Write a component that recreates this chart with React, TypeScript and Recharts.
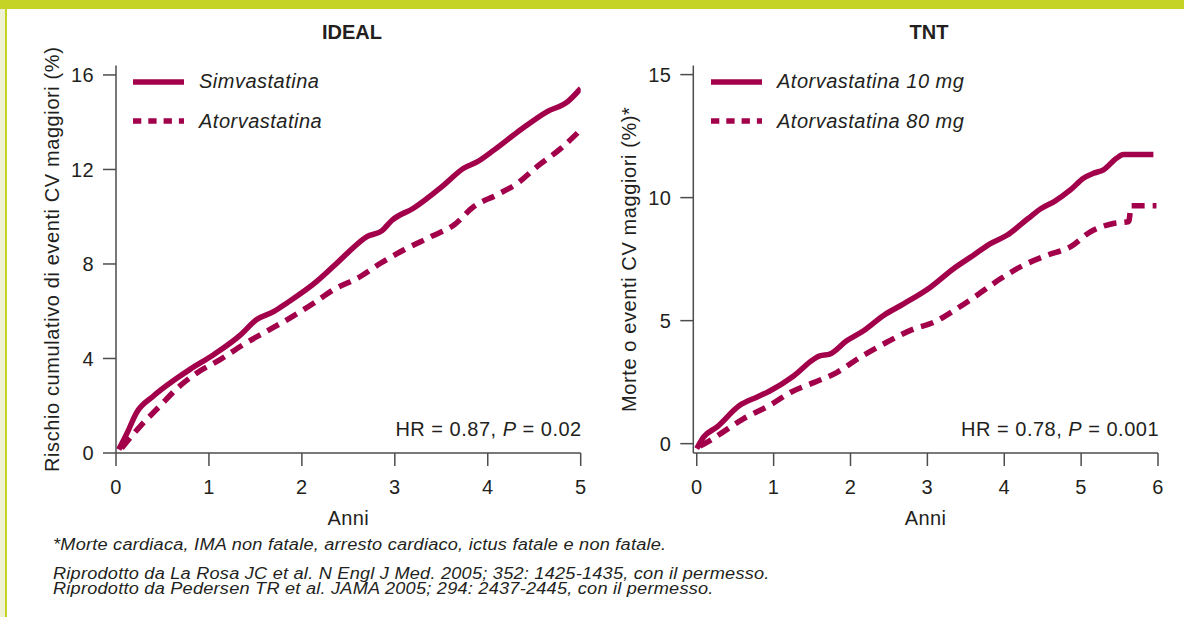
import { Legend, Line, LineChart, XAxis, YAxis } from 'recharts'

const CRIMSON = '#a3004b'
const INK = '#231f20'
const AXIS = '#4d4d4d'
const LIME = '#c5d226'
const FONT = '"Liberation Sans", Arial, Helvetica, sans-serif'

// IDEAL: cumulative risk of major CV events (%) against years of follow-up
const idealSimvaYears = [0.03, 0.12, 0.22, 0.4, 0.65, 0.8, 1.05, 1.34, 1.51, 1.7, 1.84, 2.16, 2.34, 2.49, 2.7, 2.86, 2.97, 3.2, 3.53, 3.74, 3.89, 4.07, 4.35, 4.64, 4.86, 5.0]
const idealSimvaRisk = [0.15, 0.85, 1.7, 2.4, 3.15, 3.55, 4.16, 5.0, 5.64, 5.99, 6.35, 7.26, 7.9, 8.46, 9.16, 9.4, 9.85, 10.36, 11.35, 12.05, 12.33, 12.83, 13.67, 14.45, 14.87, 15.43]
const idealAtorvaYears = [0.06, 0.26, 0.47, 0.67, 0.87, 1.12, 1.37, 1.62, 1.87, 2.13, 2.34, 2.63, 2.85, 3.1, 3.39, 3.64, 3.85, 4.1, 4.32, 4.53, 4.79, 4.98]
const idealAtorvaRisk = [0.2, 1.13, 1.98, 2.78, 3.39, 3.95, 4.59, 5.15, 5.71, 6.35, 6.91, 7.47, 8.04, 8.6, 9.16, 9.66, 10.43, 10.93, 11.42, 12.12, 12.9, 13.6]
const idealXTicks = [0, 1, 2, 3, 4, 5]
const idealYTicks = [0, 4, 8, 12, 16]

// TNT: death or major CV events (%) against years of follow-up
const tnt10Years = [0.0, 0.09, 0.26, 0.56, 0.78, 0.95, 1.26, 1.52, 1.6, 1.73, 1.95, 2.17, 2.43, 2.69, 3.04, 3.34, 3.6, 3.82, 4.04, 4.31, 4.48, 4.65, 4.86, 5.03, 5.16, 5.29, 5.46, 5.55, 5.94]
const tnt10Events = [-0.2, 0.27, 0.67, 1.56, 1.89, 2.14, 2.75, 3.43, 3.57, 3.64, 4.18, 4.59, 5.21, 5.68, 6.36, 7.11, 7.66, 8.13, 8.48, 9.15, 9.56, 9.84, 10.31, 10.79, 10.99, 11.13, 11.6, 11.75, 11.75]
const tnt80Years = [0.04, 0.21, 0.34, 0.6, 0.95, 1.23, 1.52, 1.82, 2.12, 2.47, 2.82, 3.08, 3.38, 3.64, 3.95, 4.25, 4.56, 4.86, 5.12, 5.42, 5.62, 5.65, 5.98]
const tnt80Events = [-0.1, 0.2, 0.47, 1.0, 1.56, 2.1, 2.48, 2.89, 3.5, 4.12, 4.66, 4.93, 5.48, 6.02, 6.7, 7.25, 7.66, 8.0, 8.61, 8.95, 9.03, 9.67, 9.67]
const tntXTicks = [0, 1, 2, 3, 4, 5, 6]
const tntYTicks = [0, 5, 10, 15]

type Point = { t: number; v: number }
type Series = { name: string; dashed: boolean; points: Point[] }

const toPoints = (years: number[], values: number[]): Point[] =>
  years.map((t, i) => ({ t, v: values[i] }))

const tickStyle = { fill: INK, fontSize: 20, fontFamily: FONT, letterSpacing: 0.4 }
const axisStroke = { stroke: AXIS, strokeWidth: 1.5 }

const CHART_H = 540
const PLOT_TOP = 65.5
const PLOT_BOTTOM = 453

function KeyRows({ items }: { items: Series[] }) {
  return (
    <div style={{ fontFamily: FONT, fontSize: 20, fontStyle: 'italic', color: INK, letterSpacing: 0.5 }}>
      {items.map((s) => (
        <div key={s.name} style={{ display: 'flex', alignItems: 'center', height: 39.5 }}>
          <svg width={51} height={8} style={{ marginRight: 15, flex: 'none' }}>
            <line
              x1={0}
              y1={4}
              x2={51}
              y2={4}
              stroke={CRIMSON}
              strokeWidth={5.5}
              strokeDasharray={s.dashed ? '8.3 7' : undefined}
            />
          </svg>
          <span style={{ whiteSpace: 'nowrap' }}>{s.name}</span>
        </div>
      ))}
    </div>
  )
}

function Panel({
  left,
  width,
  rightGap,
  yAxisWidth,
  title,
  titleX,
  xDomain,
  xTicks,
  yDomain,
  yTicks,
  yLabel,
  yLabelDx,
  series,
  legendLeft,
  hr,
}: {
  left: number
  width: number
  rightGap: number
  yAxisWidth: number
  title: string
  titleX: number
  xDomain: [number, number]
  xTicks: number[]
  yDomain: [number, number]
  yTicks: number[]
  yLabel: string
  yLabelDx: number
  series: Series[]
  legendLeft: number
  hr: string
}) {
  const [hrLead, hrTail] = hr.split('|')
  return (
    <div style={{ position: 'absolute', left, top: 0, width, height: CHART_H }}>
      <div
        style={{
          position: 'absolute',
          left: titleX - 100,
          width: 200,
          top: 21,
          textAlign: 'center',
          fontFamily: FONT,
          fontWeight: 'bold',
          fontSize: 20,
          lineHeight: '22px',
          color: INK,
        }}
      >
        {title}
      </div>
      <LineChart
        width={width}
        height={CHART_H}
        margin={{ top: PLOT_TOP, right: rightGap, bottom: 0, left: 0 }}
      >
        <XAxis
          type="number"
          dataKey="t"
          domain={xDomain}
          ticks={xTicks}
          interval={0}
          allowDataOverflow
          height={CHART_H - PLOT_BOTTOM}
          tickSize={13}
          tickMargin={14}
          tick={tickStyle}
          axisLine={axisStroke}
          tickLine={axisStroke}
          label={{
            value: 'Anni',
            position: 'center',
            dy: 21,
            fill: INK,
            fontSize: 20,
            fontFamily: FONT,
            letterSpacing: 0.4,
          }}
        />
        <YAxis
          type="number"
          domain={yDomain}
          ticks={yTicks}
          interval={0}
          allowDataOverflow
          width={yAxisWidth}
          tickSize={13}
          tickMargin={9}
          tick={tickStyle}
          axisLine={axisStroke}
          tickLine={axisStroke}
          label={{
            value: yLabel,
            angle: -90,
            position: 'center',
            dx: yLabelDx,
            fill: INK,
            fontSize: 20,
            fontFamily: FONT,
            letterSpacing: 0.6,
          }}
        />
        <Legend
          layout="horizontal"
          verticalAlign="middle"
          align="center"
          wrapperStyle={{ left: legendLeft, top: 62, width: 340 }}
          content={() => <KeyRows items={series} />}
        />
        {series.map((s) => (
          <Line
            key={s.name}
            name={s.name}
            data={s.points}
            dataKey="v"
            type="monotone"
            stroke={CRIMSON}
            strokeWidth={5.5}
            strokeDasharray={s.dashed ? '13 8' : undefined}
            strokeLinejoin="round"
            dot={false}
            activeDot={false}
            isAnimationActive={false}
          />
        ))}
      </LineChart>
      <div
        style={{
          position: 'absolute',
          right: rightGap - 1,
          top: 418,
          fontFamily: FONT,
          fontSize: 20,
          lineHeight: '22px',
          letterSpacing: 0.5,
          color: INK,
          whiteSpace: 'nowrap',
        }}
      >
        {hrLead}
        <i>P</i>
        {hrTail}
      </div>
    </div>
  )
}

// footnotes are set in a slightly extended italic
const noteStyle = {
  fontFamily: FONT,
  fontStyle: 'italic',
  fontSize: 16,
  letterSpacing: 0.2,
  color: INK,
  whiteSpace: 'nowrap' as const,
  position: 'absolute' as const,
  left: 53,
  lineHeight: '15px',
  transform: 'scaleX(1.135)',
  transformOrigin: 'left center',
}

export default function App() {
  const idealSeries: Series[] = [
    { name: 'Simvastatina', dashed: false, points: toPoints(idealSimvaYears, idealSimvaRisk) },
    { name: 'Atorvastatina', dashed: true, points: toPoints(idealAtorvaYears, idealAtorvaRisk) },
  ]
  const tntSeries: Series[] = [
    { name: 'Atorvastatina 10 mg', dashed: false, points: toPoints(tnt10Years, tnt10Events) },
    { name: 'Atorvastatina 80 mg', dashed: true, points: toPoints(tnt80Years, tnt80Events) },
  ]

  return (
    <div
      style={{
        position: 'absolute',
        left: 0,
        top: 0,
        width: 1184,
        height: 617,
        background: '#ffffff',
        overflow: 'hidden',
      }}
    >
      <div style={{ position: 'absolute', left: 0, top: 0, width: 5, height: 617, background: '#eef2d3' }} />
      <div style={{ position: 'absolute', left: 5, top: 0, width: 2, height: 617, background: LIME }} />
      <div style={{ position: 'absolute', left: 0, top: 0, width: 1184, height: 9, background: LIME }} />

      <Panel
        left={0}
        width={600}
        rightGap={19.3}
        yAxisWidth={116}
        title="IDEAL"
        titleX={352}
        xDomain={[0, 5]}
        xTicks={idealXTicks}
        yDomain={[0, 16.4]}
        yTicks={idealYTicks}
        yLabel="Rischio cumulativo di eventi CV maggiori (%)"
        yLabelDx={-6}
        series={idealSeries}
        legendLeft={133}
        hr="HR = 0.87, | = 0.02"
      />
      <Panel
        left={590}
        width={592}
        rightGap={24}
        yAxisWidth={103.3}
        title="TNT"
        titleX={339}
        xDomain={[-0.045, 6]}
        xTicks={tntXTicks}
        yDomain={[-0.38, 15.37]}
        yTicks={tntYTicks}
        yLabel="Morte o eventi CV maggiori (%)*"
        yLabelDx={-12.6}
        series={tntSeries}
        legendLeft={121}
        hr="HR = 0.78, | = 0.001"
      />

      <div style={{ ...noteStyle, top: 536.5 }}>
        *Morte cardiaca, IMA non fatale, arresto cardiaco, ictus fatale e non fatale.
      </div>
      <div style={{ ...noteStyle, top: 565.5 }}>
        Riprodotto da La Rosa JC et al. N Engl J Med. 2005; 352: 1425-1435, con il permesso.
      </div>
      <div style={{ ...noteStyle, top: 580.5 }}>
        Riprodotto da Pedersen TR et al. JAMA 2005; 294: 2437-2445, con il permesso.
      </div>
    </div>
  )
}
